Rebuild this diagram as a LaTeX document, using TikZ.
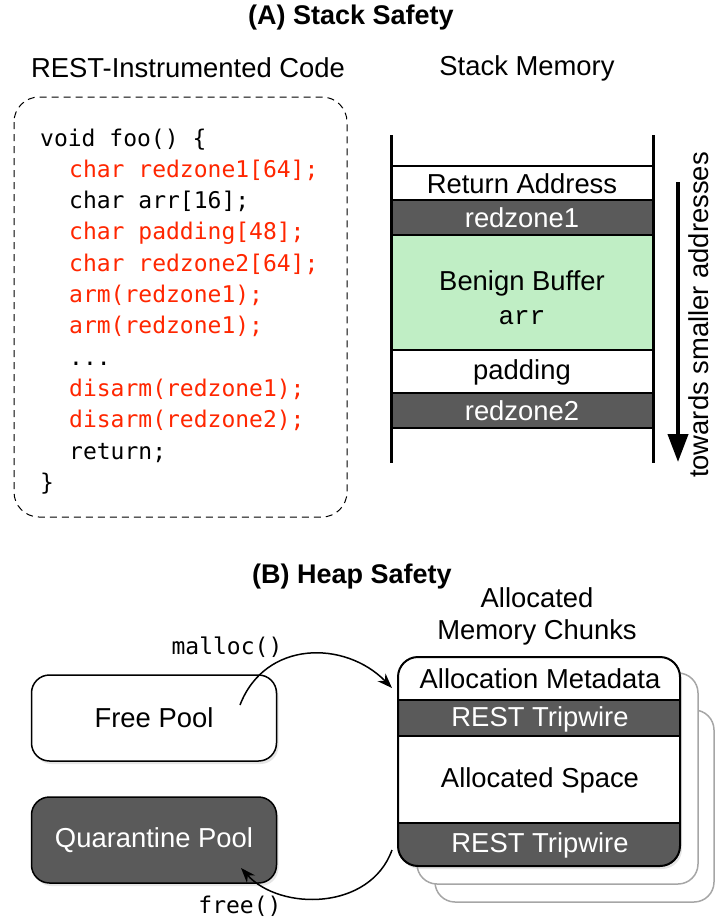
\documentclass[tikz,border=0pt]{standalone}
\usepackage{fontspec}
\setmainfont{Liberation Sans}
\newfontfamily\codefont{DejaVu Sans Mono}
\newfontfamily\courfont{Liberation Mono}
\usetikzlibrary{arrows.meta,shadows}

\definecolor{zonegray}{RGB}{90,90,90}
\definecolor{bufgreen}{RGB}{192,238,197}
\definecolor{codered}{RGB}{255,38,0}

\tikzset{
  heading/.style={font=\fontsize{27}{32}\selectfont\bfseries},
  plain/.style={font=\fontsize{27.4}{32}\selectfont, inner sep=0},
  codeline/.style={font=\codefont\fontsize{23}{28}\selectfont, anchor=base west, inner sep=0},
  pool/.style={draw, line width=1.5, rounded corners=18, minimum width=245, minimum height=86,
    font=\fontsize{27.4}{32}\selectfont, drop shadow={opacity=0.2, shadow xshift=2pt, shadow yshift=-3pt}},
  slot/.style={draw, line width=1.5}
}

\begin{document}
\begin{tikzpicture}[x=1pt, y=-1pt]
	\useasboundingbox (0,0) rectangle (715,921);

	% Titulos
	\node[heading] (titleA) at (351,18) {(A) Stack Safety};
	\node[plain] (codetitle) at (188,68) {REST-Instrumented Code};
	\node[plain] (stacktitle) at (527,68) {Stack Memory};

	% Codigo
	\draw[line width=1, dash pattern=on 7pt off 5pt, rounded corners=25] (14,97) rectangle (347,517);
	\foreach \n/\x/\c/\t in {1/40/black/{void foo() \{}, 2/69/codered/{char redzone1[64];},
		3/69/black/{char arr[16];}, 4/69/codered/{char padding[48];}, 5/69/codered/{char redzone2[64];},
		6/69/codered/{arm(redzone1);}, 7/69/codered/{arm(redzone1);}, 8/69/black/{...},
		9/69/codered/{disarm(redzone1);}, 10/69/codered/{disarm(redzone2);}, 11/69/black/{return;},
		12/40/black/{\}}}{
		\node[codeline, text=\c] (code\n) at (\x, {146 + (\n-1)*31.3}) {\t};}

	% Pila
	\draw[slot, fill=white] (391,166) rectangle (653,200);
	\draw[slot, fill=zonegray] (391,200) rectangle (653,235);
	\draw[slot, fill=bufgreen] (391,235) rectangle (653,350);
	\draw[slot, fill=white] (391,350) rectangle (653,393);
	\draw[slot, fill=zonegray] (391,393) rectangle (653,428);
	\draw[line width=3] (391,135) -- (391,463);
	\draw[line width=3] (653,135) -- (653,463);
	\node[plain] (ret) at (522,184) {Return Address};
	\node[plain, text=white] (rz1) at (522,218) {redzone1};
	\node[plain] (buf) at (522,283) {Benign Buffer};
	\node[font=\courfont\fontsize{26}{30}\selectfont, inner sep=0] (arr) at (522,318) {arr};
	\node[plain] (pad) at (522,372) {padding};
	\node[plain, text=white] (rz2) at (522,411) {redzone2};

	% Direccion
	\coordinate (dtop) at (678,182);
	\coordinate (dbot) at (678,462);
	\draw[line width=4, -{Triangle[length=28pt, width=20pt]}] (dtop) -- (dbot);
	\node[plain, rotate=90] (dir) at (699,315) {towards smaller addresses};

	% Heap
	\node[heading] (titleB) at (352,577) {(B) Heap Safety};
	\node[plain, align=center] (chunks) at (537,616) {Allocated\\Memory Chunks};

	\node[pool, fill=white] (free) at (154,718) {Free Pool};
	\node[pool, fill=zonegray, text=white] (quar) at (154,840) {Quarantine Pool};

	% Bloques
	\draw[line width=1.5, gray!70, fill=white, rounded corners=20] (435,710) rectangle (714,902);
	\draw[line width=1.5, gray!70, fill=white, rounded corners=20] (417,673) rectangle (698,884);
	\fill[white, rounded corners=20, drop shadow={opacity=0.2, shadow xshift=2pt, shadow yshift=-3pt}] (398,657) rectangle (680,866);
	\begin{scope}
		\clip[rounded corners=20] (398,657) rectangle (680,866);
		\fill[zonegray] (398,700) rectangle (680,736);
		\fill[zonegray] (398,823) rectangle (680,866);
		\draw[line width=1.5] (398,700) -- (680,700);
		\draw[line width=1.5] (398,736) -- (680,736);
		\draw[line width=1.5] (398,823) -- (680,823);
	\end{scope}
	\draw[line width=2, rounded corners=20] (398,657) rectangle (680,866);
	\node[plain] (meta) at (540,679) {Allocation Metadata};
	\node[plain, text=white] (trip1) at (540,719) {REST Tripwire};
	\node[plain] (space) at (540,780) {Allocated Space};
	\node[plain, text=white] (trip2) at (540,845) {REST Tripwire};

	% Flechas
	\coordinate (mfrom) at (240,705);
	\coordinate (mto) at (392,688);
	\coordinate (ffrom) at (392,850);
	\coordinate (fto) at (241,868);
	\draw[line width=1.5, -{Stealth[length=15pt, width=11pt]}] (mfrom) .. controls (265,640) and (345,640) .. (mto);
	\draw[line width=1.5, -{Stealth[length=15pt, width=11pt]}] (ffrom) .. controls (370,911) and (280,911) .. (fto);
	\node[font=\codefont\fontsize{23}{28}\selectfont, inner sep=0] (malloc) at (227,647) {malloc()};
	\node[font=\codefont\fontsize{23}{28}\selectfont, inner sep=0] (freecall) at (240,906) {free()};
\end{tikzpicture}
\end{document}
